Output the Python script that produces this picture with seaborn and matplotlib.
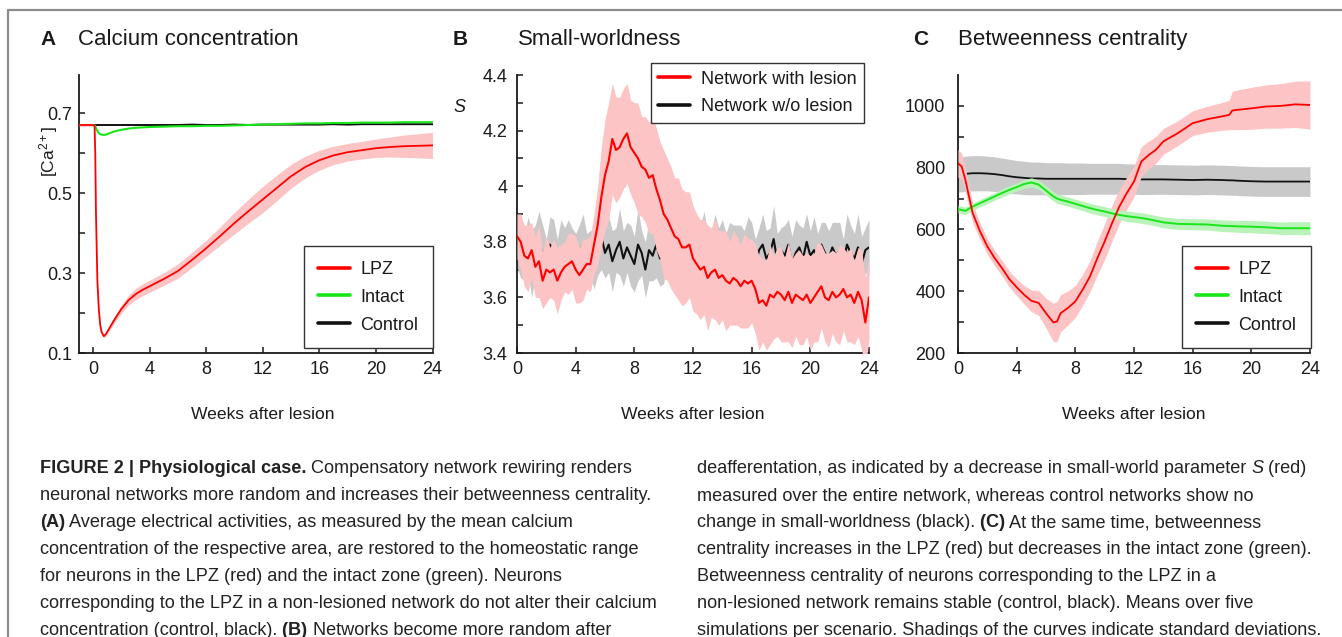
import numpy as np
import pandas as pd
import seaborn as sns
import matplotlib
matplotlib.use("Agg")
import matplotlib.pyplot as plt
from matplotlib.lines import Line2D

# ---------------- data ----------------
# Panel A: calcium concentration
weeks_A = [-1, 0, 0.1, 0.15, 0.2, 0.3, 0.4, 0.5, 0.6, 0.75, 0.9, 1.2, 1.5, 2, 2.5, 3, 3.5, 4, 5, 6,
           7, 8, 9, 10, 11, 12, 13, 14, 15, 16, 17, 18, 19, 20, 21, 22, 23, 24]
lpz_A = [0.670, 0.670, 0.668, 0.60, 0.45, 0.28, 0.21, 0.17, 0.152, 0.142, 0.147, 0.165, 0.183, 0.21,
         0.232, 0.247, 0.258, 0.267, 0.285, 0.305, 0.333, 0.362, 0.393, 0.425, 0.455, 0.484, 0.513,
         0.542, 0.565, 0.582, 0.594, 0.602, 0.607, 0.612, 0.615, 0.617, 0.618, 0.619]
lpz_A_sd = [0.003, 0.003, 0.003, 0.004, 0.004, 0.004, 0.004, 0.004, 0.004, 0.004, 0.005, 0.006, 0.008,
            0.010, 0.012, 0.014, 0.015, 0.015, 0.016, 0.018, 0.019, 0.020, 0.023, 0.027, 0.030, 0.033,
            0.032, 0.030, 0.027, 0.025, 0.023, 0.022, 0.022, 0.023, 0.025, 0.028, 0.030, 0.033]
intact_A = [0.670, 0.670, 0.669, 0.667, 0.662, 0.655, 0.650, 0.647, 0.646, 0.645, 0.646, 0.650, 0.654,
            0.658, 0.661, 0.663, 0.664, 0.665, 0.666, 0.667, 0.667, 0.668, 0.668, 0.669, 0.670, 0.671,
            0.672, 0.673, 0.674, 0.674, 0.675, 0.675, 0.676, 0.676, 0.676, 0.677, 0.677, 0.677]
control_A = [0.670, 0.670, 0.670, 0.670, 0.670, 0.670, 0.670, 0.670, 0.670, 0.670, 0.670, 0.670, 0.670,
             0.670, 0.670, 0.670, 0.670, 0.670, 0.670, 0.670, 0.671, 0.670, 0.670, 0.671, 0.670, 0.671,
             0.671, 0.671, 0.671, 0.671, 0.672, 0.671, 0.672, 0.672, 0.672, 0.672, 0.672, 0.672]

# Panel B: small-worldness S (every quarter week)
weeks_B = np.linspace(0, 24, 97)
lesion_B = [3.82, 3.80, 3.75, 3.74, 3.77, 3.71, 3.73, 3.66, 3.70, 3.69,
            3.70, 3.66, 3.69, 3.71, 3.72, 3.73, 3.70, 3.68, 3.70, 3.72,
            3.72, 3.79, 3.86, 3.96, 4.04, 4.09, 4.17, 4.13, 4.14, 4.17,
            4.19, 4.14, 4.12, 4.10, 4.07, 4.06, 4.03, 4.04, 3.99, 3.95,
            3.90, 3.88, 3.85, 3.82, 3.81, 3.78, 3.78, 3.79, 3.74, 3.72,
            3.70, 3.71, 3.67, 3.69, 3.70, 3.67, 3.68, 3.66, 3.65, 3.67,
            3.66, 3.64, 3.66, 3.65, 3.66, 3.63, 3.58, 3.59, 3.57, 3.61,
            3.60, 3.62, 3.61, 3.59, 3.62, 3.58, 3.61, 3.60, 3.59, 3.61,
            3.58, 3.60, 3.62, 3.64, 3.60, 3.59, 3.62, 3.60, 3.61, 3.63,
            3.60, 3.61, 3.58, 3.62, 3.59, 3.51, 3.60]
lesion_B_sd = [0.08, 0.10, 0.11, 0.12, 0.10, 0.11, 0.13, 0.10, 0.12, 0.09,
               0.11, 0.12, 0.10, 0.09, 0.11, 0.10, 0.12, 0.10, 0.11, 0.09,
               0.10, 0.11, 0.14, 0.18, 0.20, 0.21, 0.20, 0.19, 0.18, 0.18,
               0.18, 0.17, 0.18, 0.20, 0.18, 0.19, 0.20, 0.21, 0.22, 0.21,
               0.23, 0.22, 0.22, 0.21, 0.22, 0.21, 0.20, 0.19, 0.19, 0.18,
               0.18, 0.17, 0.19, 0.16, 0.18, 0.17, 0.16, 0.18, 0.15, 0.17,
               0.16, 0.15, 0.17, 0.16, 0.15, 0.16, 0.17, 0.15, 0.16, 0.18,
               0.15, 0.16, 0.17, 0.15, 0.18, 0.16, 0.15, 0.17, 0.16, 0.15,
               0.17, 0.16, 0.18, 0.15, 0.16, 0.17, 0.15, 0.16, 0.18, 0.15,
               0.16, 0.17, 0.15, 0.16, 0.18, 0.16, 0.15]
nolesion_B = [3.80, 3.78, 3.74, 3.79, 3.72, 3.77, 3.81, 3.75, 3.73, 3.79,
              3.76, 3.72, 3.78, 3.74, 3.80, 3.75, 3.71, 3.77, 3.79, 3.73,
              3.76, 3.74, 3.78, 3.82, 3.76, 3.79, 3.73, 3.77, 3.80, 3.74,
              3.78, 3.75, 3.72, 3.79, 3.76, 3.70, 3.77, 3.75, 3.79, 3.74,
              3.76, 3.80, 3.73, 3.77, 3.75, 3.79, 3.72, 3.76, 3.78, 3.74,
              3.77, 3.80, 3.73, 3.76, 3.78, 3.75, 3.79, 3.72, 3.77, 3.74,
              3.78, 3.76, 3.73, 3.80, 3.75, 3.71, 3.77, 3.79, 3.74, 3.76,
              3.81, 3.73, 3.77, 3.75, 3.79, 3.72, 3.76, 3.78, 3.74, 3.80,
              3.75, 3.77, 3.73, 3.79, 3.76, 3.74, 3.78, 3.75, 3.77, 3.73,
              3.79, 3.76, 3.74, 3.78, 3.72, 3.77, 3.78]
nolesion_B_sd = [0.09, 0.11, 0.08, 0.10, 0.12, 0.09, 0.10, 0.11, 0.08, 0.10,
                 0.12, 0.09, 0.10, 0.11, 0.08, 0.10, 0.12, 0.09, 0.11, 0.10,
                 0.08, 0.11, 0.10, 0.12, 0.09, 0.10, 0.11, 0.08, 0.12, 0.10,
                 0.09, 0.11, 0.10, 0.13, 0.08, 0.10, 0.11, 0.09, 0.12, 0.10,
                 0.11, 0.08, 0.10, 0.12, 0.09, 0.11, 0.10, 0.08, 0.12, 0.10,
                 0.09, 0.11, 0.10, 0.08, 0.12, 0.10, 0.09, 0.11, 0.10, 0.12,
                 0.08, 0.10, 0.11, 0.09, 0.12, 0.10, 0.08, 0.11, 0.10, 0.09,
                 0.12, 0.10, 0.08, 0.11, 0.09, 0.10, 0.12, 0.08, 0.11, 0.10,
                 0.09, 0.12, 0.10, 0.08, 0.11, 0.10, 0.09, 0.12, 0.10, 0.08,
                 0.11, 0.10, 0.09, 0.12, 0.10, 0.08, 0.10]

# Panel C: betweenness centrality
weeks_C = [0, 0.25, 0.5, 0.75, 1, 1.5, 2, 2.5, 3, 3.5, 4, 4.5, 5, 5.5, 6, 6.5, 6.75, 7, 7.5, 8,
           8.5, 9, 9.5, 10, 10.5, 11, 11.5, 12, 12.5, 13, 13.5, 14, 15, 16, 17, 18, 18.5, 18.7, 19, 20,
           21, 22, 23, 24]
lpz_C = [814, 804, 761, 707, 653, 594, 545, 507, 475, 439, 413, 389, 369, 362, 329, 299, 302, 329,
         346, 367, 405, 448, 507, 561, 620, 674, 717, 755, 820, 841, 858, 885, 912, 944, 957, 966,
         971, 985, 987, 992, 998, 1000, 1005, 1003]
lpz_C_sd = [45, 42, 38, 34, 30, 27, 25, 25, 25, 26, 27, 30, 35, 40, 48, 62, 65, 60, 55, 52, 50, 50,
            55, 58, 58, 55, 52, 50, 48, 45, 43, 42, 40, 40, 42, 45, 48, 62, 64, 68, 70, 72, 75, 78]
intact_C = [666, 663, 660, 667, 674, 685, 696, 707, 718, 728, 737, 747, 752, 745, 726, 707, 700, 696,
            690, 683, 676, 669, 663, 658, 652, 647, 643, 640, 637, 633, 628, 623, 618, 617, 616, 612,
            611, 611, 610, 609, 607, 604, 604, 604]
intact_C_sd = [12, 12, 12, 12, 12, 12, 12, 12, 13, 13, 13, 14, 15, 15, 15, 15, 15, 15, 15, 15, 15, 16,
               16, 16, 16, 16, 17, 17, 17, 17, 17, 18, 18, 18, 18, 19, 19, 19, 19, 20, 20, 20, 21, 21]
control_C = [775, 778, 780, 781, 782, 782, 781, 779, 776, 772, 769, 767, 765, 765, 764, 764, 764, 764,
             764, 764, 764, 764, 764, 764, 764, 764, 763, 763, 762, 762, 762, 762, 761, 760, 761, 760,
             759, 759, 758, 756, 755, 755, 755, 755]
control_C_sd = [55, 56, 57, 57, 57, 57, 56, 56, 55, 55, 54, 54, 53, 53, 52, 52, 52, 52, 51, 51, 51, 50,
                50, 50, 50, 50, 49, 49, 49, 49, 48, 48, 48, 48, 48, 48, 48, 48, 48, 48, 48, 48, 48, 48]

x_ticks = [0, 4, 8, 12, 16, 20, 24]
yticks_A = [0.1, 0.3, 0.5, 0.7]
yticks_B = [3.4, 3.6, 3.8, 4.0, 4.2, 4.4]
yticklabels_B = ["3.4", "3.6", "3.8", "4", "4.2", "4.4"]
yticks_C = [200, 400, 600, 800, 1000]

# ---------------- style ----------------
sns.set_theme(style="ticks")
plt.rcParams["font.family"] = ["Liberation Sans", "DejaVu Sans"]
plt.rcParams["mathtext.fontset"] = "custom"
plt.rcParams["mathtext.rm"] = "Liberation Sans"
plt.rcParams["mathtext.it"] = "Liberation Sans:italic"
plt.rcParams["axes.edgecolor"] = "#1a1a1a"
plt.rcParams["axes.linewidth"] = 1.3

RED = "#ff0000"
GREEN = "#19e619"
BLACK = "#111111"
PINK = "#fcc4c4"
GREY = "#c9c9c9"
LGREEN = "#b9f3b9"
TXT = "#1a1a1a"

W, H = 1342, 637
fig = plt.figure(figsize=(W / 100, H / 100), dpi=100)
fig.patch.set_facecolor("white")


def px_axes(l, t, r, b):
    return fig.add_axes([l / W, 1 - b / H, (r - l) / W, (b - t) / H])


axA = px_axes(79, 75, 432.5, 353)
axB = px_axes(517, 75, 869, 353)
axC = px_axes(958, 75, 1310, 353)


def band(ax, x, m, s, color, z):
    m = np.asarray(m, float)
    s = np.asarray(s, float)
    ax.fill_between(x, m - s, m + s, color=color, lw=0, zorder=z)


def line(ax, x, y, color, label, z, lw=1.3):
    sns.lineplot(x=x, y=y, ax=ax, color=color, lw=lw, label=label, zorder=z,
                 errorbar=None, sort=False, legend=False)


# Panel A
line(axA, weeks_A, control_A, BLACK, "Control", 2, 1.4)
line(axA, weeks_A, intact_A, GREEN, "Intact", 3, 1.5)
band(axA, weeks_A, lpz_A, lpz_A_sd, PINK, 4)
line(axA, weeks_A, lpz_A, RED, "LPZ", 5, 1.3)

# Panel B
band(axB, weeks_B, nolesion_B, nolesion_B_sd, GREY, 1)
line(axB, weeks_B, nolesion_B, BLACK, "Network w/o lesion", 2, 1.5)
band(axB, weeks_B, lesion_B, lesion_B_sd, PINK, 3)
line(axB, weeks_B, lesion_B, RED, "Network with lesion", 4, 1.5)

# Panel C
band(axC, weeks_C, control_C, control_C_sd, GREY, 1)
line(axC, weeks_C, control_C, BLACK, "Control", 2, 1.3)
band(axC, weeks_C, lpz_C, lpz_C_sd, PINK, 3)
band(axC, weeks_C, intact_C, intact_C_sd, LGREEN, 4)
line(axC, weeks_C, intact_C, GREEN, "Intact", 5, 1.4)
line(axC, weeks_C, lpz_C, RED, "LPZ", 6, 1.3)

# axes formatting
for ax in (axA, axB, axC):
    sns.despine(ax=ax)
    ax.set_xticks(x_ticks)
    ax.set_xticklabels([str(t) for t in x_ticks])
    ax.tick_params(which="both", direction="in", length=4, width=1.1, colors=TXT,
                   labelsize=13, top=False, right=False)
    ax.tick_params(axis="x", pad=6)
    ax.set_facecolor("white")
    ax.set_ylabel("")
    ax.set_xlabel("Weeks after lesion", fontsize=12.6, color=TXT)
    ax.xaxis.label.set_va("baseline")

axA.set_xlim(-1, 24)
axA.set_ylim(0.1, 0.795)
axA.set_yticks(yticks_A)
axA.set_yticklabels(["0.1", "0.3", "0.5", "0.7"])
axA.set_yticks([0.2, 0.4, 0.6], minor=True)
axA.tick_params(axis="y", pad=5)
axA.xaxis.set_label_coords(13 / 25, (353 - 419) / 278)

axB.set_xlim(0, 24)
axB.set_ylim(3.4, 4.4)
axB.set_yticks(yticks_B)
axB.set_yticklabels(yticklabels_B)
axB.set_yticks([3.5, 3.7, 3.9, 4.1, 4.3], minor=True)
axB.tick_params(axis="y", pad=7)
axB.xaxis.set_label_coords(0.5, (353 - 419) / 278)

axC.set_xlim(0, 24)
axC.set_ylim(200, 1100)
axC.set_yticks(yticks_C)
axC.set_yticklabels([str(v) for v in yticks_C])
axC.set_yticks([300, 500, 700, 900], minor=True)
axC.tick_params(axis="y", pad=9)
axC.xaxis.set_label_coords(0.5, (353 - 419) / 278)


def make_legend(ax, order, anchor, loc, borderpad):
    h, l = ax.get_legend_handles_labels()
    d = dict(zip(l, h))
    leg = ax.legend([d[k] for k in order], order, loc=loc, bbox_to_anchor=anchor,
                    bbox_transform=fig.transFigure, fontsize=13, frameon=True,
                    fancybox=False, edgecolor="#333333", framealpha=1, handlelength=1.75,
                    handletextpad=0.6, labelspacing=0.6, borderpad=borderpad, borderaxespad=0)
    leg.get_frame().set_linewidth(1.0)
    leg.set_zorder(10)
    for hd in leg.legend_handles:
        hd.set_linewidth(2.6)
    for t in leg.get_texts():
        t.set_color(TXT)
    return leg


make_legend(axA, ["LPZ", "Intact", "Control"], (433 / W, 1 - 348 / H), "lower right", 0.8)
make_legend(axB, ["Network with lesion", "Network w/o lesion"], (864 / W, 1 - 63 / H),
            "upper right", 0.42)
make_legend(axC, ["LPZ", "Intact", "Control"], (1311 / W, 1 - 348 / H), "lower right", 0.8)

# titles & labels
def ftext(x, y, s, **kw):
    return fig.text(x / W, 1 - y / H, s, **kw)

for letter, lx, title, tx in [("A", 40, "Calcium concentration", 78),
                              ("B", 453, "Small-worldness", 518),
                              ("C", 913, "Betweenness centrality", 958)]:
    ftext(lx, 45, letter, fontsize=15, fontweight="bold", va="baseline", color=TXT)
    ftext(tx, 45, title, fontsize=16, va="baseline", color=TXT)

ftext(49, 151, r"[Ca$^{2+}$]", fontsize=12.5, rotation=90, ha="center", va="center", color=TXT)
ftext(459, 108, "S", fontsize=13, fontstyle="italic", ha="center", va="center", color=TXT)

# frame
fig.add_artist(Line2D([8 / W, 8 / W, 1.0], [0.0, 1 - 10 / H, 1 - 10 / H],
                      transform=fig.transFigure, color="#8c8c8c", lw=1.6))

# caption
left_lines = [
    [("FIGURE 2 | Physiological case.", "bold", "normal"),
     (" Compensatory network rewiring renders", "normal", "normal")],
    [("neuronal networks more random and increases their betweenness centrality.", "normal", "normal")],
    [("(A)", "bold", "normal"),
     (" Average electrical activities, as measured by the mean calcium", "normal", "normal")],
    [("concentration of the respective area, are restored to the homeostatic range", "normal", "normal")],
    [("for neurons in the LPZ (red) and the intact zone (green). Neurons", "normal", "normal")],
    [("corresponding to the LPZ in a non-lesioned network do not alter their calcium", "normal", "normal")],
    [("concentration (control, black).", "normal", "normal"), (" (B)", "bold", "normal"),
     (" Networks become more random after", "normal", "normal")],
]
right_lines = [
    [("deafferentation, as indicated by a decrease in small-world parameter ", "normal", "normal"),
     ("S", "normal", "italic"), (" (red)", "normal", "normal")],
    [("measured over the entire network, whereas control networks show no", "normal", "normal")],
    [("change in small-worldness (black).", "normal", "normal"), (" (C)", "bold", "normal"),
     (" At the same time, betweenness", "normal", "normal")],
    [("centrality increases in the LPZ (red) but decreases in the intact zone (green).", "normal", "normal")],
    [("Betweenness centrality of neurons corresponding to the LPZ in a", "normal", "normal")],
    [("non-lesioned network remains stable (control, black). Means over five", "normal", "normal")],
    [("simulations per scenario. Shadings of the curves indicate standard deviations.", "normal", "normal")],
]

renderer = fig.canvas.get_renderer()


def draw_runs(x0, ybase, runs, size=13.1):
    x = x0
    for txt, wt, st in runs:
        t = ftext(x, ybase, txt, fontsize=size, fontweight=wt, fontstyle=st,
                  va="baseline", ha="left", color="#222222")
        bb = t.get_window_extent(renderer)
        x = bb.x1


for i, runs in enumerate(left_lines):
    draw_runs(40, 473.3 + i * 26.9, runs)
for i, runs in enumerate(right_lines):
    draw_runs(697, 473.3 + i * 26.9, runs)

fig.savefig("out.png", dpi=100, facecolor="white")
